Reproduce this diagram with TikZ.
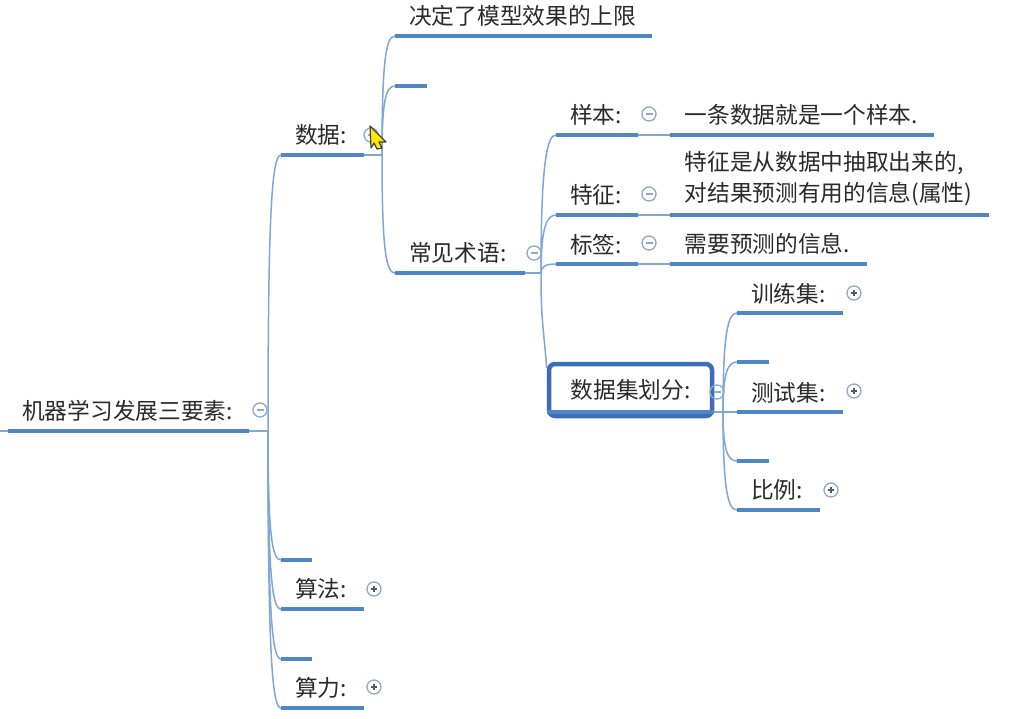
\documentclass[tikz,border=0pt]{standalone}
\usepackage{fontspec}
\setmainfont{Noto Sans CJK SC}
\usepackage{xcolor}
\usetikzlibrary{positioning,calc}
\definecolor{MapBar}{HTML}{4F86C6}
\definecolor{MapLink}{HTML}{7EA6D8}
\definecolor{MapPick}{HTML}{3F6CB8}
\definecolor{MapIcon}{HTML}{8FA9C9}
\definecolor{MapText}{HTML}{2A2A2A}

\begin{document}
\begin{tikzpicture}[
  x=1pt,y=-1pt,
  topic/.style={anchor=south west,inner xsep=14pt,inner ysep=9pt,text width=#1pt-28pt,align=left,text=MapText,font=\fontsize{22.7}{31}\selectfont},
  picked/.style={draw=MapPick,line width=4.5pt,rounded corners=6pt,minimum width=163pt,minimum height=52pt,align=center,text=MapText,font=\fontsize{22.7}{31}\selectfont},
  bar/.style={draw=MapBar,line width=3.5pt},
  link/.style={draw=MapLink,line width=1.5pt},
  icon/.style={circle,draw=MapIcon,line width=1.3pt,minimum size=14pt,inner sep=0pt},
  shut/.style={icon,path picture={\draw[MapIcon,line width=1.2pt] (path picture bounding box.center)+(-3.5,0) -- +(3.5,0);}},
  open/.style={icon,path picture={\draw[black!65,line width=1.1pt] (path picture bounding box.center)+(-3,0) -- +(3,0) (path picture bounding box.center)+(0,-3) -- +(0,3);}}
]
\useasboundingbox (0,0) rectangle (1033,719);
\fill[white] (0,0) rectangle (1033,719);

\node[topic=241] (root) at (8,431) {机器学习发展三要素:};
\node[topic=83] (data) at (281,155) {数据:};
\node[topic=31] (gapa) at (281,560) {};
\node[topic=83] (algo) at (281,609) {算法:};
\node[topic=31] (gapb) at (281,659) {};
\node[topic=83] (power) at (281,708) {算力:};

\node[topic=257] (limit) at (395,36) {决定了模型效果的上限};
\node[topic=32] (gapc) at (395,86) {};
\node[topic=130] (terms) at (395,273) {常见术语:};

\node[topic=82] (sample) at (556,135) {样本:};
\node[topic=82] (feature) at (556,215) {特征:};
\node[topic=82] (label) at (556,264) {标签:};
\node[picked] (split) at (630.5,390) {数据集划分:};

\node[topic=263,right=32pt of sample.south east,anchor=south west] (sampletext) {一条数据就是一个样本.};
\node[topic=318,right=32pt of feature.south east,anchor=south west] (featuretext) {特征是从数据中抽取出来的,\\对结果预测有用的信息(属性)};
\node[topic=196,right=32pt of label.south east,anchor=south west] (labeltext) {需要预测的信息.};

\node[topic=106] (train) at (737,313) {训练集:};
\node[topic=32] (gapd) at (737,362) {};
\node[topic=106] (test) at (737,412) {测试集:};
\node[topic=32] (gape) at (737,461) {};
\node[topic=83] (ratio) at (737,510) {比例:};

\coordinate (rootin) at (0,431);
\coordinate (rootj) at (268,431);
\coordinate (dataj) at (382,155);
\coordinate (termsj) at (541,273);
\coordinate (splitj) at (723,412);

\draw[link] (rootin) -- (root.south west);
\draw[link] (root.south east) -- (rootj);
\draw[link] (data.south east) -- (dataj);
\draw[link] (terms.south east) -- (termsj);
\draw[link] (split.south east|-splitj) -- (splitj) -- (test.south west);
\draw[link] (sample.south east) -- (sampletext.south west);
\draw[link] (feature.south east) -- (featuretext.south west);
\draw[link] (label.south east) -- (labeltext.south west);

\foreach \a/\b in {rootj/data,rootj/gapa,rootj/algo,rootj/gapb,rootj/power,
  dataj/limit,dataj/gapc,dataj/terms,
  termsj/sample,termsj/feature,termsj/label,
  splitj/train,splitj/gapd,splitj/gape,splitj/ratio}
  \draw[link] (\a) .. controls ($(\a)!0.8!(\a|-\b.south west)$) and ($(\b.south west)+(-9,0)$) .. (\b.south west);
\draw[link] (termsj) .. controls ($(termsj)+(0,45)$) and ($(split.north west)+(-4,-40)$) .. ($(split.north west)+(0,6)$);

\foreach \n in {root,data,gapa,algo,gapb,power,limit,gapc,terms,sample,feature,label,sampletext,featuretext,labeltext,train,gapd,test,gape,ratio}
  \draw[bar] (\n.south west) -- (\n.south east);
\draw[bar] (split.south west|-splitj) -- (split.south east|-splitj);

\node[shut] (rooticon) at (260,410) {};
\node[shut] (dataicon) at (371,135) {};
\node[shut] (termsicon) at (534,253) {};
\node[shut] (sampleicon) at (649,114) {};
\node[shut] (featureicon) at (649,194) {};
\node[shut] (labelicon) at (649,243) {};
\node[shut] (spliticon) at (717,392) {};
\node[open] (trainicon) at (854,293) {};
\node[open] (testicon) at (854,391) {};
\node[open] (ratioicon) at (831,490) {};
\node[open] (algoicon) at (374,589) {};
\node[open] (powericon) at (374,687) {};

\filldraw[fill=yellow!90!orange,draw=black!75,line width=1.2pt,line join=round] (370,126) -- (386,142) -- (379,142) -- (382,148) -- (377,149) -- (374,143) -- (371,148) -- cycle;
\end{tikzpicture}
\end{document}
